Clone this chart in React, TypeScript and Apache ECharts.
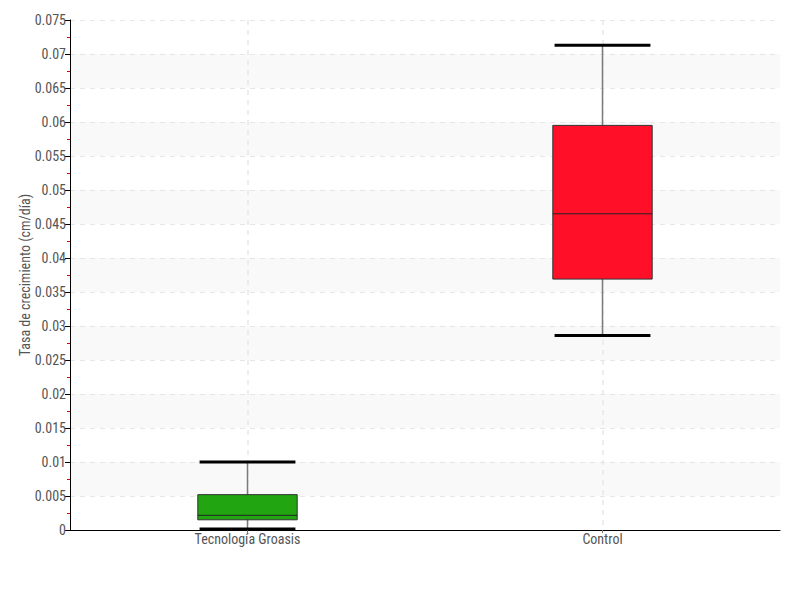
import React, { useEffect, useRef } from "react";
import * as echarts from "echarts";

const categories = ["Tecnología Groasis", "Control"];
const whiskerMin = [0.00015, 0.0286];
const q1Values = [0.0015, 0.0369];
const medianValues = [0.00216, 0.0465];
const q3Values = [0.0052, 0.0595];
const whiskerMax = [0.01, 0.0713];
const boxColors = ["#21A511", "#FF0F28"];
const yTitle = "Tasa de crecimiento (cm/día)";

const FONT = "'Roboto Condensed', 'Liberation Sans Narrow', 'DejaVu Sans Condensed', Roboto, sans-serif";

export default function App() {
  const ref = useRef<HTMLDivElement>(null);
  useEffect(() => {
    if (!ref.current) return;
    const chart = echarts.init(ref.current, undefined, { renderer: "svg" });
    const data = categories.map((_, i) => [
      i,
      whiskerMin[i],
      q1Values[i],
      medianValues[i],
      q3Values[i],
      whiskerMax[i],
    ]);
    chart.setOption({
      animation: false,
      backgroundColor: "#ffffff",
      textStyle: { fontFamily: FONT },
      grid: { left: 70, right: 20, top: 20, bottom: 70 },
      xAxis: {
        type: "category",
        data: categories,
        boundaryGap: true,
        axisLine: { lineStyle: { color: "#000", width: 1 } },
        axisTick: { show: true, alignWithLabel: true, length: 3, lineStyle: { color: "#777" } },
        axisLabel: { color: "#555", fontSize: 14, fontFamily: FONT, margin: 2 },
        splitLine: {
          show: true,
          alignWithLabel: true,
          lineStyle: { color: "#e8e8e8", type: [5, 5], width: 1.5 },
        },
      },
      yAxis: {
        type: "value",
        min: 0,
        max: 0.075,
        interval: 0.005,
        name: yTitle,
        nameLocation: "middle",
        nameGap: 38,
        nameMoveOverlap: false,
        nameTextStyle: { color: "#555", fontSize: 14, fontFamily: FONT },
        axisLine: { show: true, lineStyle: { color: "#000", width: 1 } },
        axisTick: { show: true, length: 5, lineStyle: { color: "#000" } },
        minorTick: { show: true, splitNumber: 2, length: 3, lineStyle: { color: "#e00000" } },
        axisLabel: { color: "#555", fontSize: 14, fontFamily: FONT, margin: 4 },
        splitLine: { show: true, lineStyle: { color: "#e6e6e6", type: [5, 5], width: 1 } },
        splitArea: { show: true, areaStyle: { color: ["rgba(255,255,255,0)", "#f9f9f9"] } },
      },
      series: [
        {
          type: "custom",
          data,
          encode: { x: 0, y: [1, 2, 3, 4, 5] },
          renderItem: (params: any, api: any) => {
            const idx = api.value(0);
            const band = api.size([1, 0])[0];
            const boxW = band * 0.28;
            const capW = band * 0.27;
            const pMin = api.coord([idx, api.value(1)]);
            const pQ1 = api.coord([idx, api.value(2)]);
            const pMed = api.coord([idx, api.value(3)]);
            const pQ3 = api.coord([idx, api.value(4)]);
            const pMax = api.coord([idx, api.value(5)]);
            const cx = pMin[0];
            return {
              type: "group",
              children: [
                {
                  type: "line",
                  shape: { x1: cx, y1: pMin[1], x2: cx, y2: pMax[1] },
                  style: { stroke: "#7a7a7a", lineWidth: 1.5 },
                },
                {
                  type: "rect",
                  shape: { x: cx - boxW / 2, y: pQ3[1], width: boxW, height: pQ1[1] - pQ3[1] },
                  style: { fill: boxColors[params.dataIndex], stroke: "#333", lineWidth: 1 },
                },
                {
                  type: "line",
                  shape: { x1: cx - boxW / 2, y1: pMed[1], x2: cx + boxW / 2, y2: pMed[1] },
                  style: { stroke: "#222", lineWidth: 1 },
                },
                {
                  type: "line",
                  shape: { x1: cx - capW / 2, y1: pMin[1], x2: cx + capW / 2, y2: pMin[1] },
                  style: { stroke: "#000", lineWidth: 3 },
                },
                {
                  type: "line",
                  shape: { x1: cx - capW / 2, y1: pMax[1], x2: cx + capW / 2, y2: pMax[1] },
                  style: { stroke: "#000", lineWidth: 3 },
                },
              ],
            };
          },
        },
      ],
    });
    return () => chart.dispose();
  }, []);
  return <div ref={ref} style={{ width: 800, height: 600, margin: -8 }} />;
}
